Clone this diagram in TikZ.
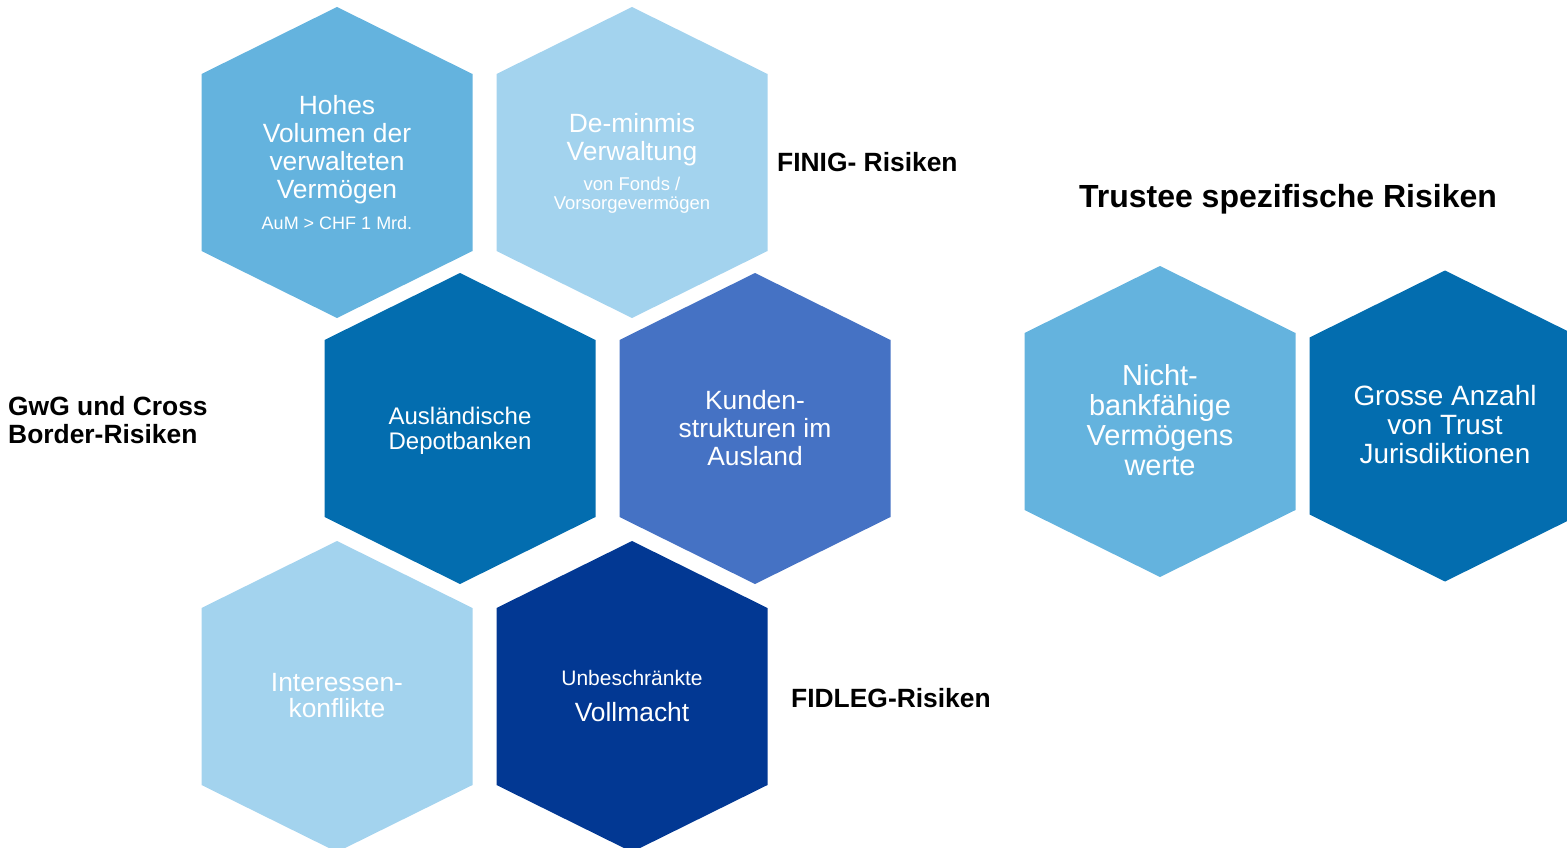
\documentclass[tikz,border=0pt]{standalone}
\usepackage{fontspec}
\setmainfont{Liberation Sans}
\definecolor{RISKsky}{RGB}{100, 179, 222}
\definecolor{RISKpale}{RGB}{163, 211, 238}
\definecolor{RISKdeep}{RGB}{3, 109, 175}
\definecolor{RISKroyal}{RGB}{69, 114, 196}
\definecolor{RISKnavy}{RGB}{2, 56, 147}

\begin{document}
\begin{tikzpicture}[x = 1pt, y = -1pt,
	hextext/.style = {text = white, align = center, inner sep = 0pt, font = \fontsize{26.4}{28}\selectfont},
	risk/.style = {anchor = west, inner sep = 0pt, align = left, font = \bfseries\fontsize{26.4}{28}\selectfont}]
	\useasboundingbox (0,0) rectangle (1567,848);
	\clip (0,0) rectangle (1567,848);
	\foreach \cx/\cy/\col in {337/162.5/RISKsky, 632/162.5/RISKpale, 460/428.5/RISKdeep, 755/428.5/RISKroyal, 337/696.5/RISKpale, 632/696.5/RISKnavy, 1160/421.5/RISKsky, 1445/426/RISKdeep}
		\fill[\col] (\cx,\cy) ++(0,-155.5) -- ++(135.5,67) -- ++(0,177) -- ++(-135.5,67) -- ++(-135.5,-67) -- ++(0,-177) -- cycle;
	\node[hextext] (volumen) at (337,163) {Hohes\\Volumen der\\verwalteten\\Vermögen\\[3pt]{\fontsize{18}{20}\selectfont AuM > CHF 1 Mrd.}};
	\node[hextext] (deminimis) at (632,163.5) {De-minmis\\Verwaltung\\[2pt]{\fontsize{18.5}{20}\selectfont von Fonds /}\\[-9pt]{\fontsize{18.5}{20}\selectfont Vorsorgevermögen}};
	\node[hextext, font = \fontsize{24}{25}\selectfont] (depot) at (460,430.5) {Ausländische\\Depotbanken};
	\node[hextext] (kunden) at (755,428.5) {Kunden-\\strukturen im\\Ausland};
	\node[hextext, font = \fontsize{26.4}{26}\selectfont] (interessen) at (337,695.5) {Interessen-\\konflikte};
	\node[hextext] (vollmacht) at (632,696) {{\fontsize{21}{22}\selectfont Unbeschränkte}\\[8pt]Vollmacht};
	\node[hextext, font = \fontsize{29}{30}\selectfont] (nichtbank) at (1160,420.5) {Nicht-\\bankfähige\\Vermögens\\werte};
	\node[hextext, font = \fontsize{27.9}{29}\selectfont] (anzahl) at (1445,425) {Grosse Anzahl\\von Trust\\Jurisdiktionen};
	\node[risk] (finig) at (777,162) {FINIG- Risiken};
	\node[risk] (gwg) at (8,420) {GwG und Cross\\Border-Risiken};
	\node[risk] (fidleg) at (791,698) {FIDLEG-Risiken};
	\node[risk, anchor = center, font = \bfseries\fontsize{32}{34}\selectfont] (trustee) at (1288,199) {Trustee spezifische Risiken};
\end{tikzpicture}
\end{document}
